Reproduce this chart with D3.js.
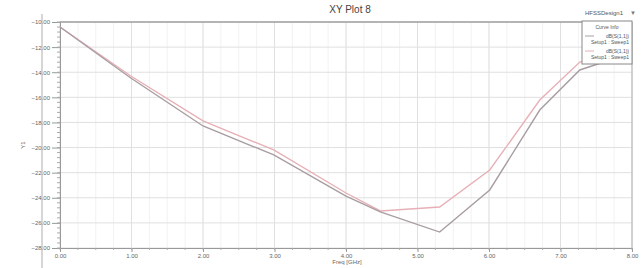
<!DOCTYPE html>
<html>
<head>
<meta charset="utf-8">
<script src="https://cdn.jsdelivr.net/npm/d3@7"></script>
<style>
  body { margin: 0; background: #fff; }
  text { font-family: "Liberation Sans", Arial, sans-serif; }
</style>
</head>
<body>
<script>
// frequency samples (GHz) and dB values
var freqA = [0, 0.99, 2.0, 2.99, 4.0, 4.48, 5.31, 6.01, 6.71, 7.27, 7.69, 8.0];
var dbA = [-10.40, -14.46, -18.28, -20.59, -23.86, -25.13, -26.73, -23.38, -17.01, -13.82, -13.03, -12.63];
var freqB = [0, 0.99, 2.0, 2.99, 4.0, 4.48, 5.31, 6.01, 6.71, 7.27, 7.69, 8.0];
var dbB = [-10.40, -14.30, -17.88, -20.19, -23.62, -25.05, -24.73, -21.79, -16.21, -13.19, -12.63, -12.23];

var xTicks = [0, 1, 2, 3, 4, 5, 6, 7, 8];
var yTicks = [-10, -12, -14, -16, -18, -20, -22, -24, -26, -28];
var legendNames = ["dB(S(1,1))", "dB(S(1,1))"];
var legendSetups = ["Setup1 : Sweep1", "Setup1 : Sweep1"];

var w = 643;
var h = 268;
var pLeft = 60, pRight = 632, pTop = 22, pBottom = 248;

var svg = d3.select("body")
	.append("svg")
	.attr("width", w)
	.attr("height", h);

var xScale = d3.scaleLinear()
	.domain([0, 8])
	.range([pLeft, pRight]);
var yScale = d3.scaleLinear()
	.domain([-10, -28])
	.range([pTop, pBottom]);

// outer frame line on the left
svg.append("line")
	.attr("x1", 42).attr("x2", 42)
	.attr("y1", 14).attr("y2", h)
	.attr("stroke", "#c8c8c8")
	.attr("stroke-width", 1.5);

// minor grid
var xMinor = d3.range(0, 8.001, 0.25);
var yMinor = d3.range(-10, -28.001, -0.4);
svg.append("g").selectAll("line")
	.data(xMinor)
	.enter()
	.append("line")
	.attr("x1", function(d) { return xScale(d); })
	.attr("x2", function(d) { return xScale(d); })
	.attr("y1", pTop).attr("y2", pBottom)
	.attr("stroke", "#f2f2f2");

// major grid
svg.append("g").selectAll("line")
	.data(xTicks)
	.enter()
	.append("line")
	.attr("x1", function(d) { return xScale(d); })
	.attr("x2", function(d) { return xScale(d); })
	.attr("y1", pTop).attr("y2", pBottom)
	.attr("stroke", "#e0e0e0");
svg.append("g").selectAll("line")
	.data(yTicks)
	.enter()
	.append("line")
	.attr("x1", pLeft).attr("x2", pRight)
	.attr("y1", function(d) { return yScale(d); })
	.attr("y2", function(d) { return yScale(d); })
	.attr("stroke", "#e0e0e0");

// plot border
svg.append("line")
	.attr("x1", pLeft).attr("x2", pRight)
	.attr("y1", pTop).attr("y2", pTop)
	.attr("stroke", "#a0a0a0").attr("stroke-width", 1.5);
svg.append("line")
	.attr("x1", pRight).attr("x2", pRight)
	.attr("y1", pTop).attr("y2", pBottom)
	.attr("stroke", "#b4b4b4");

// axes
var yAxis = d3.axisLeft(yScale)
	.tickValues(yTicks)
	.tickFormat(d3.format(".2f"))
	.tickSize(8);
var gy = svg.append("g")
	.attr("transform", "translate(" + pLeft + ",0)")
	.call(yAxis);
var xAxis = d3.axisBottom(xScale)
	.tickValues(xTicks)
	.tickFormat(d3.format(".2f"))
	.tickSize(4);
var gx = svg.append("g")
	.attr("transform", "translate(0," + pBottom + ")")
	.call(xAxis);
[gx, gy].forEach(function(g) {
	g.select(".domain").attr("stroke", "#999");
	g.selectAll(".tick line").attr("stroke", "#999");
	g.selectAll(".tick text")
		.attr("fill", "#666")
		.attr("font-size", "6px")
		.attr("font-family", "Liberation Sans, Arial, sans-serif");
});
gy.selectAll(".tick text").attr("x", -10);
gx.selectAll(".tick text").attr("y", 6);

// minor ticks
svg.append("g").selectAll("line")
	.data(yMinor)
	.enter()
	.append("line")
	.attr("x1", pLeft - 3).attr("x2", pLeft)
	.attr("y1", function(d) { return yScale(d); })
	.attr("y2", function(d) { return yScale(d); })
	.attr("stroke", "#aaa");
svg.append("g").selectAll("line")
	.data(xMinor)
	.enter()
	.append("line")
	.attr("x1", function(d) { return xScale(d); })
	.attr("x2", function(d) { return xScale(d); })
	.attr("y1", pBottom).attr("y2", pBottom + 2)
	.attr("stroke", "#aaa");

// curves
var line = d3.line()
	.x(function(d) { return xScale(d[0]); })
	.y(function(d) { return yScale(d[1]); });
svg.append("path")
	.datum(d3.zip(freqB, dbB))
	.attr("d", line)
	.attr("fill", "none")
	.attr("stroke", "#e6b0b6")
	.attr("stroke-width", 1.4);
svg.append("path")
	.datum(d3.zip(freqA, dbA))
	.attr("d", line)
	.attr("fill", "none")
	.attr("stroke", "#a89ea2")
	.attr("stroke-width", 1.4);

// title and labels
svg.append("text")
	.attr("x", 350).attr("y", 13)
	.attr("text-anchor", "middle")
	.attr("font-size", "10px")
	.attr("fill", "#444")
	.text("XY Plot 8");
svg.append("text")
	.attr("x", 604).attr("y", 15)
	.attr("text-anchor", "middle")
	.attr("font-size", "6px")
	.attr("fill", "#555")
	.text("HFSSDesign1");
svg.append("text")
	.attr("x", 633).attr("y", 15)
	.attr("text-anchor", "middle")
	.attr("font-size", "6px")
	.attr("fill", "#777")
	.text("▼");
svg.append("text")
	.attr("x", 347).attr("y", 264)
	.attr("text-anchor", "middle")
	.attr("font-size", "6px")
	.attr("fill", "#666")
	.text("Freq [GHz]");
svg.append("text")
	.attr("transform", "translate(25,145) rotate(-90)")
	.attr("text-anchor", "middle")
	.attr("font-size", "6px")
	.attr("fill", "#666")
	.text("Y1");

// legend
var lg = svg.append("g").attr("transform", "translate(582,21)");
lg.append("rect")
	.attr("width", 50).attr("height", 43)
	.attr("fill", "#fff")
	.attr("stroke", "#888");
lg.append("text")
	.attr("x", 25).attr("y", 8)
	.attr("text-anchor", "middle")
	.attr("font-size", "5px")
	.attr("fill", "#555")
	.text("Curve Info");
var lcol = ["#a89ea2", "#e6b0b6"];
legendNames.forEach(function(n, i) {
	var yy = 17 + i * 15;
	lg.append("line")
		.attr("x1", 3).attr("x2", 12)
		.attr("y1", yy - 2).attr("y2", yy - 2)
		.attr("stroke", lcol[i]);
	lg.append("text")
		.attr("x", 47).attr("y", yy)
		.attr("text-anchor", "end")
		.attr("font-size", "5px")
		.attr("fill", "#555")
		.text(n);
	lg.append("text")
		.attr("x", 47).attr("y", yy + 6)
		.attr("text-anchor", "end")
		.attr("font-size", "5px")
		.attr("fill", "#555")
		.text(legendSetups[i]);
});
</script>
</body>
</html>
